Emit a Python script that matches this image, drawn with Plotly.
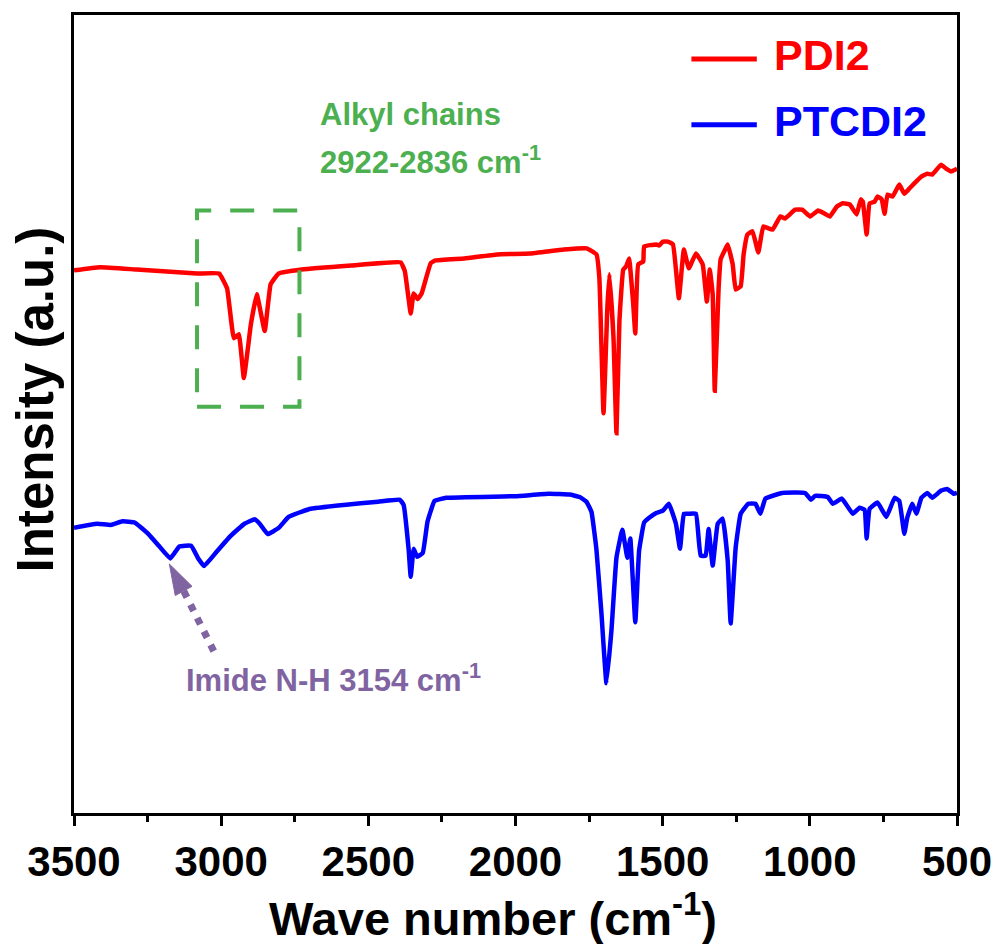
import plotly.graph_objects as go

# ---- data (wavenumber in cm^-1, intensity in arbitrary units) ----
PDI2_WN = [3500, 3412, 3287, 3082, 3007, 2980, 2957, 2940, 2923, 2899, 2879, 2852, 2832, 2805, 2727, 2558,
           2390, 2376, 2356, 2346, 2332, 2319, 2288, 2272, 2174, 2062, 1951, 1836, 1758, 1725, 1715, 1701,
           1688, 1681, 1667, 1657, 1647, 1634, 1624, 1614, 1600, 1593, 1583, 1566, 1563, 1522, 1512, 1499,
           1482, 1465, 1445, 1428, 1411, 1387, 1364, 1350, 1340, 1330, 1323, 1310, 1303, 1286, 1279, 1262,
           1252, 1235, 1225, 1212, 1195, 1175, 1158, 1127, 1100, 1084, 1050, 1026, 999, 972, 949, 932, 908,
           888, 864, 841, 827, 820, 807, 797, 780, 770, 756, 746, 736, 719, 696, 679, 662, 645, 621, 601,
           584, 554, 537, 520, 500]
PDI2_I = [68.0, 68.4, 68.1, 67.6, 67.6, 65.75, 59.5, 60.0, 54.5, 61.25, 65.0, 60.4, 66.25, 67.6, 68.1, 68.6,
          69.0, 67.9, 62.6, 65.1, 64.4, 65.1, 68.9, 69.25, 69.5, 70.0, 70.1, 70.6, 70.75, 70.0, 67.0, 50.1,
          63.25, 67.5, 59.5, 47.6, 61.6, 68.1, 68.5, 69.5, 63.75, 60.1, 68.75, 69.1, 71.0, 71.25, 71.1, 71.6,
          71.6, 71.25, 64.5, 70.6, 68.25, 70.1, 68.75, 64.1, 68.1, 65.0, 52.9, 65.75, 69.4, 70.75, 71.25, 68.75,
          65.6, 66.0, 70.0, 72.5, 72.9, 70.25, 73.5, 73.1, 74.75, 74.5, 75.6, 75.6, 74.75, 75.5, 75.1, 74.75, 76.0,
          76.4, 76.25, 75.0, 76.9, 76.6, 72.5, 76.4, 76.6, 77.25, 76.9, 75.1, 77.5, 77.25, 78.75, 77.6, 78.25, 78.9, 79.75, 80.1,
          80.0, 81.25, 80.75, 80.4, 80.75]

PTCDI2_WN = [3500, 3421, 3375, 3335, 3294, 3247, 3211, 3173, 3142, 3102, 3078, 3058, 3014, 2967, 2921, 2886,
             2869, 2842, 2805, 2771, 2700, 2584, 2467, 2393, 2380, 2363, 2356, 2346, 2334, 2315, 2299, 2275,
             2235, 2002, 1887, 1816, 1782, 1759, 1742, 1725, 1708, 1691, 1674, 1657, 1637, 1620, 1610, 1593,
             1580, 1563, 1546, 1522, 1499, 1479, 1455, 1441, 1428, 1411, 1387, 1371, 1354, 1344, 1330, 1313,
             1296, 1279, 1269, 1252, 1235, 1209, 1185, 1168, 1151, 1094, 1016, 996, 982, 939, 922, 891, 854,
             831, 814, 807, 797, 770, 740, 712, 696, 679, 669, 652, 638, 621, 601, 584, 554, 534, 510, 500]
PTCDI2_I = [35.75, 36.25, 36.1, 36.55, 36.4, 34.95, 33.45, 31.9, 33.4, 33.5, 31.9, 30.95, 32.8, 34.75, 36.25, 36.8,
            36.25, 34.95, 35.7, 37.1, 38.1, 38.6, 39.0, 39.25, 38.6, 33.0, 29.6, 33.1, 32.1, 32.6, 36.5, 39.1,
            39.5, 39.7, 40.0, 39.9, 39.6, 39.0, 37.75, 33.0, 25.0, 16.25, 22.9, 32.0, 35.5, 32.0, 34.4, 23.9,
            32.9, 36.4, 37.0, 37.6, 37.9, 38.75, 36.25, 33.1, 37.5, 37.5, 37.5, 32.25, 32.25, 35.6, 31.0, 36.25,
            36.9, 31.6, 23.75, 33.25, 37.5, 38.75, 38.75, 37.5, 39.4, 40.1, 40.1, 39.25, 39.75, 39.6, 38.75, 39.4, 37.5,
            38.25, 38.0, 34.4, 38.1, 38.9, 37.1, 39.5, 39.1, 35.0, 37.0, 38.75, 37.5, 39.5, 40.1, 39.5, 40.4, 40.6, 40.0, 40.1]

SERIES_NAMES = ["PDI2", "PTCDI2"]
SERIES_COLORS = ["#FF0000", "#0000FF"]
X_TICKS = [3500, 3000, 2500, 2000, 1500, 1000, 500]

# annotation regions (data coordinates)
ALKYL_BOX = dict(x0=3082, x1=2734, y0=50.9, y1=75.5)
ARROW_TIP = (3176, 31.2)
ARROW_BASE_L = (3156, 27.25)
ARROW_BASE_R = (3099, 28.4)
ARROW_SHAFT = ((3127, 27.8), (3024, 20.2))

FONT = "Arial, Liberation Sans, Helvetica, sans-serif"
GREEN = "#4CAF50"
PURPLE = "#8064A2"

L, R, T, B = 74, 39, 13, 131
W, H = 1004, 944
PW, PH = W - L - R, H - T - B

fig = go.Figure()
for wn, inten, name, col in [(PDI2_WN, PDI2_I, SERIES_NAMES[0], SERIES_COLORS[0]),
                             (PTCDI2_WN, PTCDI2_I, SERIES_NAMES[1], SERIES_COLORS[1])]:
    fig.add_trace(go.Scatter(x=wn, y=inten, mode="lines", name=name,
                             line=dict(color=col, width=4.5, shape="spline", smoothing=0.3),
                             showlegend=False))

fig.update_layout(
    width=W, height=H,
    margin=dict(l=L, r=R, t=T, b=B),
    paper_bgcolor="white", plot_bgcolor="white",
    font=dict(family=FONT, color="black"),
    xaxis=dict(range=[3500, 500], tickvals=X_TICKS, ticktext=[str(v) for v in X_TICKS],
               ticks="outside", ticklen=10, tickwidth=3, tickcolor="black",
               minor=dict(dtick=250, tick0=500, ticks="outside", ticklen=6, tickwidth=3, tickcolor="black"),
               showline=True, linewidth=3, linecolor="black", mirror=True,
               showgrid=False, zeroline=False,
               tickfont=dict(size=42, family=FONT, weight="bold", color="black")),
    yaxis=dict(range=[0, 100], showticklabels=False, ticks="",
               showline=True, linewidth=3, linecolor="black", mirror=True,
               showgrid=False, zeroline=False),
)

# green dashed box
fig.add_shape(type="rect", xref="x", yref="y", **ALKYL_BOX,
              line=dict(color=GREEN, width=4, dash="24px,19px"))

# purple dotted arrow
(sx0, sy0), (sx1, sy1) = ARROW_SHAFT
fig.add_shape(type="line", xref="x", yref="y", x0=sx0, y0=sy0, x1=sx1, y1=sy1,
              line=dict(color=PURPLE, width=7, dash="7px,8px"))
fig.add_shape(type="path", xref="x", yref="y",
              path=f"M {ARROW_TIP[0]},{ARROW_TIP[1]} L {ARROW_BASE_L[0]},{ARROW_BASE_L[1]} "
                   f"L {ARROW_BASE_R[0]},{ARROW_BASE_R[1]} Z",
              fillcolor=PURPLE, line=dict(color=PURPLE, width=1))

def px_x(p):
    return (p - L) / PW

def px_y(p):
    return (H - B - p) / PH

# texts
fig.add_annotation(text="Alkyl chains", xref="paper", yref="paper", x=px_x(320), y=px_y(113),
                   xanchor="left", yanchor="middle", showarrow=False,
                   font=dict(size=31, color=GREEN, family=FONT, weight="bold"))
fig.add_annotation(text="2922-2836 cm<sup>-1</sup>", xref="paper", yref="paper", x=px_x(320), y=px_y(158),
                   xanchor="left", yanchor="middle", showarrow=False,
                   font=dict(size=31, color=GREEN, family=FONT, weight="bold"))
fig.add_annotation(text="Imide N-H 3154 cm<sup>-1</sup>", xref="paper", yref="paper", x=px_x(185), y=px_y(678),
                   xanchor="left", yanchor="middle", showarrow=False,
                   font=dict(size=31, color=PURPLE, family=FONT, weight="bold"))

# legend (manual)
for i, (name, col) in enumerate(zip(SERIES_NAMES, SERIES_COLORS)):
    ly = [57, 123][i]
    ty = [53, 119][i]
    fig.add_shape(type="line", xref="paper", yref="paper", x0=px_x(697), x1=px_x(763),
                  y0=px_y(ly), y1=px_y(ly), line=dict(color=col, width=5))
    fig.add_annotation(text=name, xref="paper", yref="paper", x=px_x(778), y=px_y(ty),
                       xanchor="left", yanchor="middle", showarrow=False,
                       font=dict(size=43, color=col, family=FONT, weight="bold"))

# axis titles
fig.add_annotation(text="Wave number (cm<sup>-1</sup>)", xref="paper", yref="paper",
                   x=px_x(497), y=px_y(915), xanchor="center", yanchor="middle", showarrow=False,
                   font=dict(size=47, family=FONT, weight="bold", color="black"))
fig.add_annotation(text="Intensity (a.u.)", xref="paper", yref="paper", textangle=-90,
                   x=px_x(35), y=px_y(398), xanchor="center", yanchor="middle", showarrow=False,
                   font=dict(size=51, family=FONT, weight="bold", color="black"))

fig.write_html("out.html", config={"displayModeBar": False},
               post_script="document.body.style.margin='0';document.body.style.overflow='hidden';")
